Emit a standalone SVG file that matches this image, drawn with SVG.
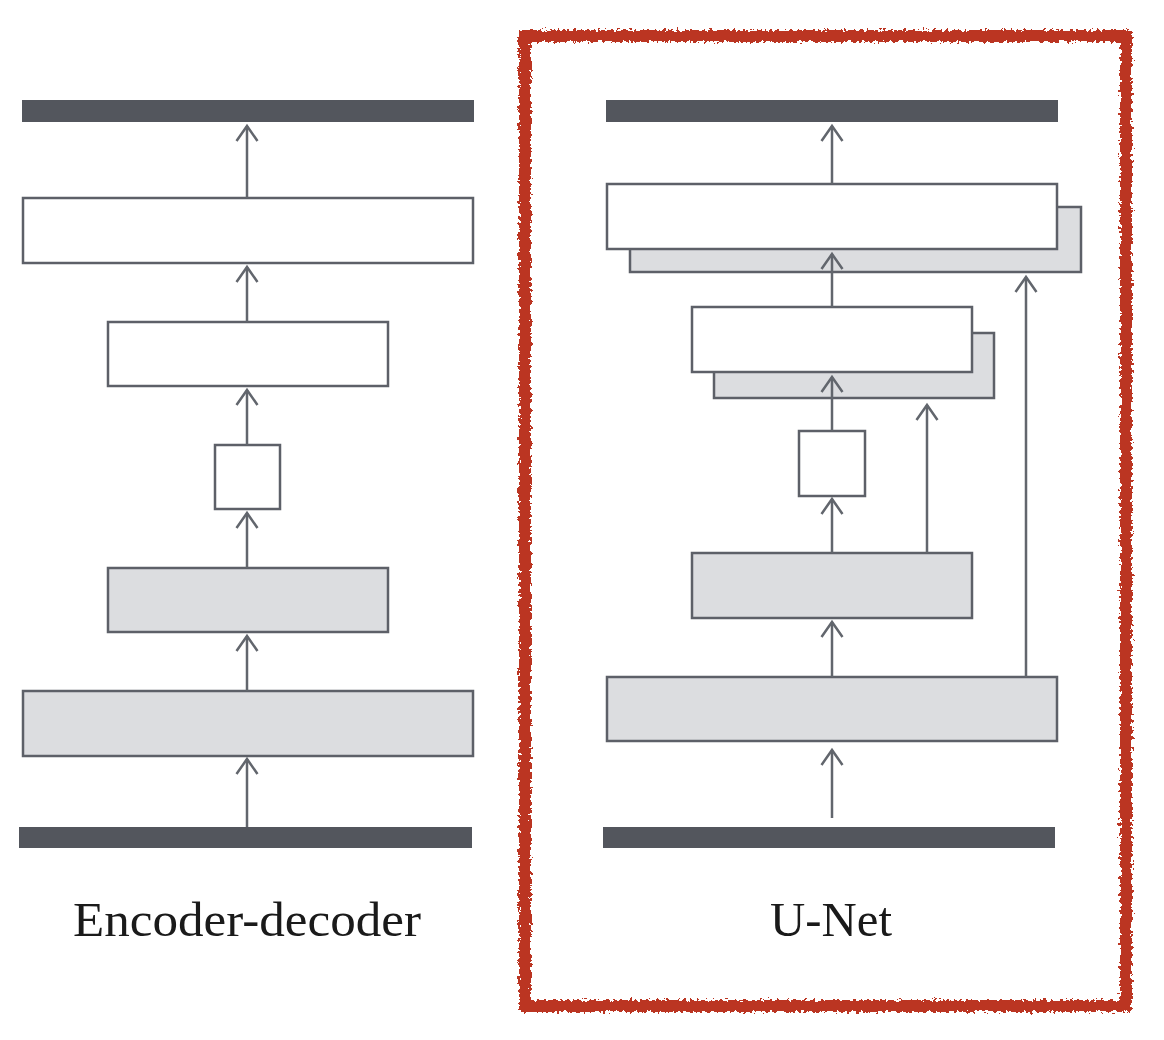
<svg xmlns="http://www.w3.org/2000/svg" width="1164" height="1040" viewBox="0 0 1164 1040">
<style>
.bar{fill:#53565d;}
.box{fill:#ffffff;stroke:#5d6068;stroke-width:2.5;}
.gbox{fill:#dcdde0;stroke:#5d6068;stroke-width:2.5;}
.arr{fill:none;stroke:#62666d;stroke-width:2.5;marker-end:url(#ah);}
.lbl{font-family:"Liberation Serif","DejaVu Serif",serif;font-size:48px;fill:#1a1a1a;text-anchor:middle;}
</style>
<defs>
<marker id="ah" markerUnits="userSpaceOnUse" orient="auto" refX="0" refY="0" markerWidth="30" markerHeight="30" overflow="visible">
<path d="M -15 -10.5 L 0 0 L -15 10.5" fill="none" stroke="#62666d" stroke-width="2.5" stroke-linejoin="miter"/>
</marker>
<filter id="rough" x="-5%" y="-5%" width="110%" height="110%">
<feTurbulence type="fractalNoise" baseFrequency="0.3" numOctaves="2" seed="3" result="n"/>
<feDisplacementMap in="SourceGraphic" in2="n" scale="8" xChannelSelector="R" yChannelSelector="G"/>
</filter>
</defs>
<rect width="1164" height="1040" fill="#ffffff"/>

<g id="frame">
<rect x="525" y="36" width="601" height="970" fill="none" stroke="#bb3420" stroke-width="12" filter="url(#rough)"/>
</g>

<g id="enc-out"><rect class="bar" x="22" y="100" width="452" height="22"/></g>
<g id="enc-dec1"><rect class="box" x="23" y="198" width="450" height="65"/></g>
<g id="enc-dec2"><rect class="box" x="108" y="322" width="280" height="64"/></g>
<g id="enc-bottleneck"><rect class="box" x="215" y="445" width="65" height="64"/></g>
<g id="enc-enc2"><rect class="gbox" x="108" y="568" width="280" height="64"/></g>
<g id="enc-enc1"><rect class="gbox" x="23" y="691" width="450" height="65"/></g>
<g id="enc-in"><rect class="bar" x="19" y="827" width="453" height="21"/></g>
<g id="enc-label"><text class="lbl" x="247" y="936" textLength="348" lengthAdjust="spacingAndGlyphs">Encoder-decoder</text></g>

<g id="unet-out"><rect class="bar" x="606" y="100" width="452" height="22"/></g>
<g id="unet-dec1">
<rect class="gbox" x="630" y="207" width="451" height="65"/>
<rect class="box" x="607" y="184" width="450" height="65"/>
</g>
<g id="unet-dec2">
<rect class="gbox" x="714" y="333" width="280" height="65"/>
<rect class="box" x="692" y="307" width="280" height="65"/>
</g>
<g id="unet-bottleneck"><rect class="box" x="799" y="431" width="66" height="65"/></g>
<g id="unet-enc2"><rect class="gbox" x="692" y="553" width="280" height="65"/></g>
<g id="unet-enc1"><rect class="gbox" x="607" y="677" width="450" height="64"/></g>
<g id="unet-in"><rect class="bar" x="603" y="827" width="452" height="21"/></g>
<g id="unet-label"><text class="lbl" x="831" y="936" textLength="122" lengthAdjust="spacingAndGlyphs">U-Net</text></g>

<g id="connectors">
<path class="arr" d="M247 198 V126"/>
<path class="arr" d="M247 322 V267"/>
<path class="arr" d="M247 445 V390"/>
<path class="arr" d="M247 568 V513"/>
<path class="arr" d="M247 691 V636"/>
<path class="arr" d="M247 827 V759"/>
<path class="arr" d="M832 184 V126"/>
<path class="arr" d="M832 307 V254"/>
<path class="arr" d="M832 431 V377"/>
<path class="arr" d="M832 553 V499"/>
<path class="arr" d="M832 677 V622"/>
<path class="arr" d="M832 818 V750"/>
<path class="arr" d="M927 553 V405"/>
<path class="arr" d="M1026 677 V277"/>
</g>
</svg>
